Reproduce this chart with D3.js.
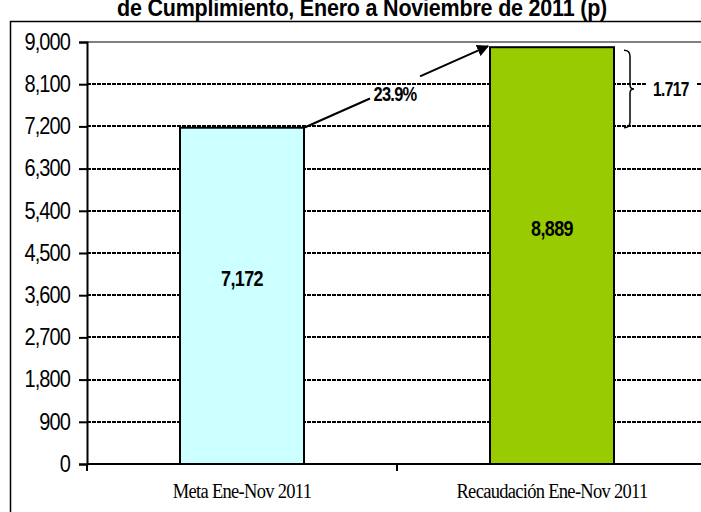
<!DOCTYPE html>
<html>
<head>
<meta charset="utf-8">
<script src="https://cdn.jsdelivr.net/npm/d3@7"></script>
<style>
  body { margin: 0; background: #fff; }
  svg { display: block; }
</style>
</head>
<body>
<svg width="701" height="512"></svg>
<script>
// data
var categories = ["Meta Ene-Nov 2011", "Recaudación Ene-Nov 2011"];
var values = [7172, 8889];
var barColors = ["#CCFFFF", "#99CC00"];
var yTicks = [0, 900, 1800, 2700, 3600, 4500, 5400, 6300, 7200, 8100, 9000];
var growthLabel = "23.9%";
var diffLabel = "1.717";
var titleText = "de Cumplimiento, Enero a Noviembre de 2011 (p)";

var svg = d3.select("svg"),
    width = +svg.attr("width"),
    height = +svg.attr("height");

var sans = "'Liberation Sans', Arial, sans-serif";
var serif = "'Liberation Serif', 'Times New Roman', serif";

var plotLeft = 87, plotRight = 707, plotTop = 42, plotBottom = 464;

var x = d3.scaleBand()
    .domain(categories)
    .range([plotLeft, plotRight])
    .padding(0);

var y = d3.scaleLinear()
    .domain([0, 9000])
    .range([plotBottom, plotTop]);

var barW = x.bandwidth() * 0.4;

// text in the original is stretched a bit vertically
function label(px, py, txt, size, opts) {
  opts = opts || {};
  var g = svg.append("g").attr("transform", "translate(" + px + "," + py + ")");
  return g.append("text")
      .attr("transform", "scale(1," + (opts.k || 1.25) + ")")
      .attr("text-anchor", opts.anchor || "middle")
      .style("font-family", opts.font || sans)
      .style("font-weight", opts.bold === false ? "normal" : "bold")
      .style("font-size", size + "px")
      .style("letter-spacing", (opts.ls || 0) + "px")
      .text(txt);
}

// title (first line is cut off above the picture)
label(362, 16, titleText, 21.5, {k: 1.1, ls: -0.2});

// outer chart border
svg.append("rect")
    .attr("x", 10.5)
    .attr("y", 21.5)
    .attr("width", 720)
    .attr("height", 520)
    .attr("fill", "none")
    .attr("stroke", "#000")
    .attr("stroke-width", 1.5);

// gridlines
svg.append("g")
    .selectAll("line")
    .data(yTicks.filter(function(d) { return d > 0 && d < 9000; }))
    .enter().append("line")
      .attr("x1", plotLeft)
      .attr("x2", width)
      .attr("y1", function(d) { return Math.round(y(d)); })
      .attr("y2", function(d) { return Math.round(y(d)); })
      .attr("stroke", "#000")
      .attr("stroke-width", 2)
      .attr("stroke-dasharray", "4,1");

// plot area top border
svg.append("line")
    .attr("x1", plotLeft).attr("x2", width)
    .attr("y1", y(9000)).attr("y2", y(9000))
    .attr("stroke", "#808080")
    .attr("stroke-width", 2);

// bars
svg.append("g")
    .selectAll("rect")
    .data(values)
    .enter().append("rect")
      .attr("x", function(d, i) { return x(categories[i]) + (x.bandwidth() - barW) / 2; })
      .attr("y", function(d) { return y(d); })
      .attr("width", barW)
      .attr("height", function(d) { return y(0) - y(d); })
      .attr("fill", function(d, i) { return barColors[i]; })
      .attr("stroke", "#000")
      .attr("stroke-width", 2);

// value labels
var labelY = [286, 236];
values.forEach(function(d, i) {
  label(x(categories[i]) + x.bandwidth() / 2, labelY[i], d3.format(",")(d), 18, {k: 1.25, ls: -0.6});
});

// y axis
var yAxis = svg.append("g")
    .attr("transform", "translate(" + plotLeft + ",0)")
    .call(d3.axisLeft(y).tickValues(yTicks).tickFormat(d3.format(",")).tickSize(8).tickPadding(9));
yAxis.select(".domain").attr("stroke-width", 2);
yAxis.selectAll(".tick line").attr("stroke-width", 2);
yAxis.selectAll("text")
    .attr("transform", "scale(1,1.15)")
    .style("font-family", sans)
    .style("font-size", "20px")
    .style("letter-spacing", "-0.9px")
    .attr("fill", "#000");

// x axis
var xAxis = svg.append("g")
    .attr("transform", "translate(0," + plotBottom + ")");
xAxis.append("line")
    .attr("x1", plotLeft).attr("x2", width)
    .attr("stroke", "#000").attr("stroke-width", 2);
xAxis.selectAll(".cat-tick")
    .data(categories)
    .enter().append("line")
      .attr("class", "cat-tick")
      .attr("x1", function(d) { return x(d); })
      .attr("x2", function(d) { return x(d); })
      .attr("y1", 0).attr("y2", 7)
      .attr("stroke", "#000").attr("stroke-width", 2);
categories.forEach(function(d) {
  label(x(d) + x.bandwidth() / 2, 498, d, 18.5, {font: serif, bold: false, k: 1.08, ls: -0.7});
});

// growth arrow from bar 1 top-right to bar 2 top-left
svg.append("defs").append("marker")
    .attr("id", "arrow")
    .attr("viewBox", "0 0 10 10")
    .attr("refX", 9).attr("refY", 5)
    .attr("markerWidth", 6).attr("markerHeight", 6)
    .attr("orient", "auto")
  .append("path")
    .attr("d", "M0,0L10,5L0,10z")
    .attr("fill", "#000");

var x0 = x(categories[0]) + (x.bandwidth() + barW) / 2, y0 = y(values[0]);
var x1 = x(categories[1]) + (x.bandwidth() - barW) / 2 - 2, y1 = y(values[1]) - 1;
var slope = (y1 - y0) / (x1 - x0);
var gapA = 370, gapB = 420;
svg.append("line")
    .attr("x1", x0).attr("y1", y0)
    .attr("x2", gapA).attr("y2", y0 + slope * (gapA - x0))
    .attr("stroke", "#000").attr("stroke-width", 2);
svg.append("line")
    .attr("x1", gapB).attr("y1", y0 + slope * (gapB - x0))
    .attr("x2", x1).attr("y2", y1)
    .attr("stroke", "#000").attr("stroke-width", 2)
    .attr("marker-end", "url(#arrow)");
label(395, 101, growthLabel, 16.5, {k: 1.2, ls: -0.8});

// brace showing the difference
var bx = 630, bt = y(values[1]) + 3, bb = y(values[0]), bm = (bt + bb) / 2;
svg.append("path")
    .attr("d", "M" + (bx - 6) + "," + bt + " Q" + bx + "," + bt + " " + bx + "," + (bt + 6) +
               " L" + bx + "," + (bm - 4) + " Q" + bx + "," + bm + " " + (bx + 4) + "," + bm +
               " Q" + bx + "," + bm + " " + bx + "," + (bm + 4) +
               " L" + bx + "," + (bb - 6) + " Q" + bx + "," + bb + " " + (bx - 6) + "," + bb)
    .attr("fill", "none")
    .attr("stroke", "#000")
    .attr("stroke-width", 1.5);
svg.append("rect")
    .attr("x", 646).attr("y", Math.round(y(8100)) - 3)
    .attr("width", 50).attr("height", 6)
    .attr("fill", "#fff");
label(671, bm + 7, diffLabel, 15.5, {k: 1.3, ls: -0.6});
</script>
</body>
</html>
